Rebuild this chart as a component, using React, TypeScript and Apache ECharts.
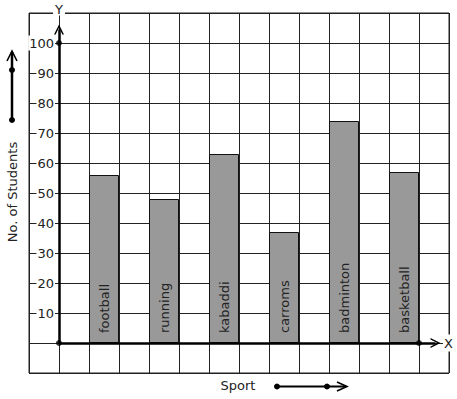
import React, { useEffect, useRef } from "react";
import * as echarts from "echarts";

const sports = ["football", "running", "kabaddi", "carroms", "badminton", "basketball"];
const students = [56, 48, 63, 37, 74, 57];
const yMin = -10;
const yMax = 110;
const yStep = 10;
const yTickLabels = [10, 20, 30, 40, 50, 60, 70, 80, 90, 100];
const xMin = -1;
const xMax = 13;
const axisDots = [
  [0, 0],
  [0, 100],
  [12, 0],
];
const yAxisEnd = 104.5;
const xAxisEnd = 12.55;

const FONT = "DejaVu Sans";
const chevron = "path://M0,10 L5,0 L10,10 L8.4,10 L5,3.2 L1.6,10 Z";

export default function App() {
  const ref = useRef<HTMLDivElement>(null);
  useEffect(() => {
    if (!ref.current) return;
    const chart = echarts.init(ref.current, null, { renderer: "svg" });
    const barData = sports.map((s, i) => ({ name: s, value: [1.5 + 2 * i, students[i]] }));
    chart.setOption({
      animation: false,
      grid: {
        left: 29,
        top: 13,
        width: 420,
        height: 360,
        show: true,
        borderColor: "#222",
        borderWidth: 1,
        containLabel: false,
        outerBoundsMode: "none",
      },
      xAxis: {
        type: "value",
        min: xMin,
        max: xMax,
        interval: 1,
        position: "bottom",
        offset: -30,
        name: "X",
        nameLocation: "end",
        nameGap: -6,
        nameMoveOverlap: false,
        nameTextStyle: {
          fontFamily: FONT,
          fontSize: 13,
          color: "#222",
          backgroundColor: "#fff",
          padding: [2, 1],
        },
        axisLine: { show: true, onZero: false, lineStyle: { opacity: 0, width: 0 } },
        axisTick: { show: false },
        axisLabel: { show: false },
        splitLine: { show: true, lineStyle: { color: "#222", width: 1 } },
      },
      yAxis: {
        type: "value",
        min: yMin,
        max: yMax,
        interval: yStep,
        position: "left",
        offset: -30,
        name: "Y",
        nameLocation: "end",
        nameGap: 4,
        nameMoveOverlap: false,
        nameTextStyle: {
          fontFamily: FONT,
          fontSize: 13,
          color: "#222",
          backgroundColor: "#fff",
          padding: [0, 2],
          align: "center",
          verticalAlign: "middle",
        },
        axisLine: { show: true, onZero: false, lineStyle: { opacity: 0, width: 0 } },
        axisTick: { show: false },
        axisLabel: {
          show: true,
          margin: 4,
          customValues: yTickLabels,
          fontFamily: FONT,
          fontSize: 13,
          color: "#222",
          backgroundColor: "#fff",
          padding: [1, 1],
        },
        splitLine: { show: true, lineStyle: { color: "#222", width: 1 } },
      },
      series: [
        {
          type: "bar",
          data: barData,
          barWidth: 30,
          itemStyle: { color: "#999999", borderColor: "#111", borderWidth: 1 },
          label: {
            show: true,
            position: "insideBottom",
            rotate: 90,
            align: "left",
            verticalAlign: "middle",
            distance: 10,
            formatter: "{b}",
            fontFamily: FONT,
            fontSize: 13,
            color: "#222",
          },
          markLine: {
            silent: true,
            symbol: ["none", chevron],
            symbolSize: [10, 10],
            label: { show: false },
            lineStyle: { color: "#000", width: 2.5, type: "solid" },
            data: [
              [{ coord: [0, 0] }, { coord: [0, yAxisEnd] }],
              [{ coord: [0, 0] }, { coord: [xAxisEnd, 0] }],
            ],
          },
        },
        {
          type: "scatter",
          data: axisDots,
          symbol: "circle",
          symbolSize: 6,
          itemStyle: { color: "#000" },
          z: 5,
        },
      ],
      graphic: [
        {
          type: "text",
          x: 12,
          y: 192,
          rotation: Math.PI / 2,
          style: {
            text: "No. of Students",
            x: 0,
            y: 0,
            align: "center",
            verticalAlign: "middle",
            font: `13px "${FONT}"`,
            fill: "#222",
          },
        },
        {
          type: "line",
          shape: { x1: 12, y1: 120, x2: 12, y2: 52 },
          style: { stroke: "#000", lineWidth: 2.5 },
        },
        { type: "circle", shape: { cx: 12, cy: 120, r: 3 }, style: { fill: "#000" } },
        { type: "circle", shape: { cx: 12, cy: 70, r: 3 }, style: { fill: "#000" } },
        {
          type: "polyline",
          shape: { points: [[7, 61], [12, 51], [17, 61]] },
          style: { stroke: "#000", lineWidth: 1.6, fill: "none" },
        },
        {
          type: "text",
          x: 238,
          y: 385,
          style: {
            text: "Sport",
            x: 0,
            y: 0,
            align: "center",
            verticalAlign: "middle",
            font: `13px "${FONT}"`,
            fill: "#222",
          },
        },
        {
          type: "line",
          shape: { x1: 277, y1: 386.5, x2: 346, y2: 386.5 },
          style: { stroke: "#000", lineWidth: 2 },
        },
        { type: "circle", shape: { cx: 277, cy: 386.5, r: 3 }, style: { fill: "#000" } },
        { type: "circle", shape: { cx: 327, cy: 386.5, r: 3 }, style: { fill: "#000" } },
        {
          type: "polyline",
          shape: { points: [[337, 382], [347, 386.5], [337, 391]] },
          style: { stroke: "#000", lineWidth: 1.6, fill: "none" },
        },
      ],
    });
    return () => chart.dispose();
  }, []);
  return (
    <div
      ref={ref}
      style={{ position: "absolute", left: 0, top: 0, width: 457, height: 399, background: "#fff" }}
    />
  );
}
